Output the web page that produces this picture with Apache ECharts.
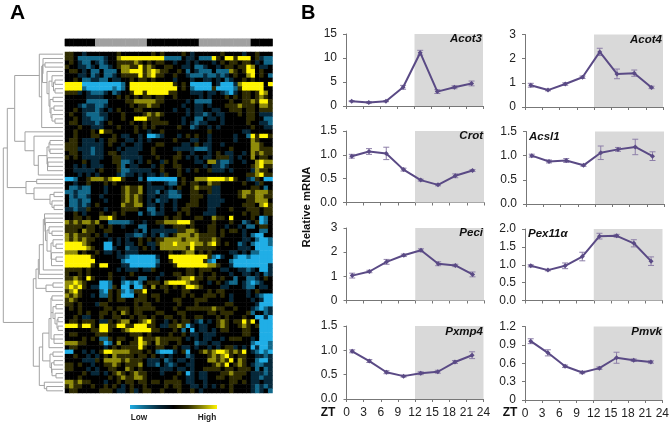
<!DOCTYPE html>
<html><head><meta charset="utf-8">
<style>html,body{margin:0;padding:0;background:#fff}#c{width:672px;height:426px}</style>
<script src="https://cdn.jsdelivr.net/npm/echarts@6/dist/echarts.min.js"></script>
</head><body><div id="c"></div>
<script>
// ---------- Panel A data ----------
const levelOf = {B:-3,b:-2,d:-1,'.':0,o:1,y:2,Y:3};
const heatRows = [
"oo..d... ....o... ....o.o. ...o.d.. ....o... .d..o...",
"oo.bbbbb bd..yYYY YYYYYYYb bbb.dd.b bbYo.YYo YYY.odbb",
".o.dbb.d bd..oooo yo.o.oo. .d..d.d. ..d.o.oo .oo.d.bb",
"o..ddbd. bbd.oyyo oYoyo..o o..dd.bb d..d.oo. ooYy.dd.",
".oo.d.bb .bbb.yyY YYoyYyoo ..o.b.db bb.bbbyo .oYY.o..",
"...dd.bd .bbd.ooo oYoyYoo. .o..dbbb dbbdbd.o ..yY.o.b",
"..o.bbdd bb.dd..o .oo.o... .d...d.. dd.d.bd. .o.o....",
"YYYYBBBB BBBBBb.Y YYYYYYYY Yo.o.BBB BB.dBBBd yYYYYY.Y",
"YYYYbBBB BBBbBb.Y YYYYYYYY YY.o.bBB BBoBBBBb oYYYYY..",
"oood.dbb bd.bd..o YYoYYYYY oo...ddd .dd.dbBd .oo.oYy.",
".....ddd d...o.o. o.oo.oo. .o.....d .d...o.o .oo.oyo.",
".....bbb bb....oo yyyyyoo. ....d.bb bb....o. .ooyoYYo",
"...dbddb bd.....o .ooyoo.. ...d..dd .d...ooo yooo.yyo",
"..o.dddb d.d.o... oo...... .d..d.dd ..dd..oo o.oo.ooo",
".o..dbbb dd...o.. ..oyoyo. ....d.dd bd.dd... o.oo.ddd",
"..o.ddbb bd...o.. YYYooo.. ...d..bb .dd.d... ..oo..bb",
".oo.dddb d.o....o ..o.oooo ...d.dbd d...d... ..o..ddb",
"...o..dd d...o... o.o.o... ..o..bd. .d.d.... ...o..dd",
"..o...o. Yoo..... o..d..o. ........ .o...... .dd.....",
"..o...oo ...o.dd. .d.BBbd. ..d.o.o. .d.....d ..bYoYYo",
".oo.ddd. d.oo..dd .d.d.... .o...dd. .d.....d ...yo...",
"ooo.dddd d.o..d.. dd...oo. ...dd.o. dd..d... ...yyo..",
"ooodddbd d...d.dd dd..o... .dddddbb bd....o. ...yyooo",
".oo.ddbd d.oo.ddd d...o... ..o..d.. .d.o.dd. .d.yoyoo",
"o.o.dddd d..ooddd dd...o.. .oo.d.d. dd.oood. d..y.oo.",
"....o.dd ...oobbd .d.o..do .o....dd .yydbbd. .d..yYyy",
"..d.d.dd d...ob.d d...d.o. .oo..... d.ddbd.. ...oyYoo",
"..ddddd. o...obbd dddd..o. ..o.d.o. .oddd.d. ...dyoo.",
"...d.d.d ....dbdd .d.dd.do ..o..... ........ ..ooyYoo",
"BBb..oyy yoyYYo.. .b.BBBBB BB.o..yy yYYYYyYo ..dbo.BB",
"..d..o.. .o.o.... ...d...d bb.o.oo. .yoo.... .o..do..",
".bbdbb.. .d...oyo oy.dddd. d.o..oyo oodd.... ...oo.b.",
"bbdbbb.. .d...oyo oy.ddb.d bbd..oo. .odd.... oyyoyyyo",
".bdbbd.. d....oyo yo.dd.dd bbb..ooo .ddd.... oyooyyoo",
".bbdbb.. .d...oyo yo.d.bdd .d...oo. .dddd... ..ooyyy.",
".bbdbd.o .....yoo yy.dd.d. .d..ooo. .ddd.... .ooo.yYo",
"ddbddo.. .d...ooo o..bb.d. .d.oo... .dd...o. ..ooo.oo",
"..o.d... o..o.o.. .b.dbdd. ..o.o... ddd..... .o.oo.oo",
"..oo.o.. yyYo.... .......o .oo...oo ..yoo.Y. ...o.Bb.",
"yoyoyyoy ..bbbbbd ..d..ooy yyYYYo.. ..o...o. .bd.oBb.",
"oooo.oo. o.o..d.. .bb...d. .ooo.o.. .oo..d.. d.bb.oo.",
"ooo.yoo. .oo..... d.b.dddd ddooyyo. .oo.o.oo .d...bb.",
"yoyooo.o .d....dd bbd.d.bd .oyyyoyo ooo.o... .d.bBB..",
"yoyoyoo. ..d.d.d. .o.o.ooy yyyoyyyo ooyo.... .dd.bBBb",
"YYYYyo.. .BB.d.dd .o.ddoyy yYyyyYyy oyYo.o.. bd.bBBBb",
"YYYYYyo. .BBd..bd d.o.d.yy yyyyoYoo ooo..... ddd.BBBB",
"yyy.o..o .dd.d.dd d....... o..oyy.o .o....dd .d.bbBBB",
"YYYYYYo. ....ddbB BBBBBd.. YYYYYYYY YobBd..b BBbBBBBB",
"YYYYYYY. .....bBB BBBBBb.. oYYYYYYY obB...bB BBBBBBBB",
"YYYYYYo. YY...ddB BBBBBd.. .oYYYYYY Yyyo..dB BBBBBBBd",
"oooo.o.. ....d.dd d.ddo... ....oo.o oo..dd.. ddbd.BBd",
"o..o.o.. ..o....o ......d. .oo.oo.o ..o...d. .dd.d.bd",
"ooyo.Yo. ..o..d.. .bb..d.. ..oyyYoo .oo.o..b ..bbd.o.",
"yyYyo... BBb..bBb Bb.ooo.y YYYYyoo. .d.o.dbb .dbBbd..",
"yYyYo.dd BBbo.BB. BBo.y.oo .o.oYYyo ....dd.. .dbb.dd.",
"oyYo.... bBo.obBb ooY....o ...oo... .o.oo... ..d.o...",
"yoyo..d. bbo.oBBB .oo.oo.. ...o.o.. ooo.o.d. ..d.dbBB",
"oyo..... ..o.oo.. ooo..o.. .oo...oo o.....d. ...d.dBB",
"oo.o...d oo...... o.oo.... ..o...o. .....oo. ....dBBB",
".o.o.... .oo.ooo. ooooo... .o..oooo ooyoo..o ...dbBbd",
"...o.o.. oo.o.yo. oo...oo. ..oo.... .oo.ooo. ..ob..bd",
"..o.dd.. o..oo..o .oo.o..o o..o..oo ...o.o.. .o..BBdB",
".oo.ooo. ddo.oyy. .oyYo..d .o.oo.db .d.oyo.o oYoY.BBB",
"YYYoYYo. YYooYYoo YYYoo.dd ooyoBd.d d..oyo.. oyo.oBBB",
"......oo YYo..oyY YYYYoo.. .o.b.B.d d.d.oo.. .oo..BBB",
".oo....o oo.....o oo.o.... o..o.dd. ddd..... .oo..BBB",
"....o.o. bbo.oo.. oYoooyoo ooo.d.d. dd..d.oo o..d.BBB",
"yyyoo... oBb.y..o oYyo.yoo ..o...bd d.dd.... ...bBBBb",
".oo..... .d.o.ooo oYo..oo. .o.dd.d. .d.d.ood .d.BdBBb",
"BB..d.d. oYYyyyyo oo.o.bBB Bd.oB..o yoyYYyoy oY.dbBbB",
"..o..d.d .o.yoooo .oo.o.d. d...bd.. .oyoyYo. oo..ddbd",
"....dddo .yyyyoyo oo.ddd.b d.dd.d.. .yyoyoY. yo..bBBd",
"oo.o..d. .ooyo.oo oy.ddb.d bd..dd.. ..oyoY.o yo.dbbdd",
"oo...d.d ..oo..yo .o....dd d.dd.d.. oooo.oo. ooo.b.bd",
"....o.dd .d.oyo.o yoo...d. ..o.Bd.d d...ooyo oo.dddbd",
"...o.... ..o.oyoo yyo..... .o..dd.d d..oo.oo o..ddbdd",
"yyoyoo.. .d..o.oo .oo.oo.o ooo.dd.. d.....oo .o.dd.dd",
"oyoo..o. .o.o.d.o ..o....o .oo..dd. d.d.o.o. ...dbdbd",
".oo..... ooo.dd.o d.oo..o. ..o..o.d ......o. ...dbd.b"
];
const phaseBlocks = [[0,7],[1,12],[0,12],[1,12],[0,5]]; // [dark/light, length in columns]

// Dendrogram: [branch position, ...children], 0 = a leaf, leaves in row order.
const treeA = [39.3,0,[41.7,[43,0,[42.5,[45,0,0],[47,0,[49,[52,0,[53.5,[55,0,0],[55,0,0]]],[50,[53,0,0],[51,[54,0,0],[52,0,[55,0,0]]]]]]]],0]];
const treeB = [25,0,[34,0,[38.3,[47,[49,[50,0,0],[50,0,0]],[47.5,0,[48,0,0],0]],0]]];
const treeC = [26,[36.7,0,0],[34,0,[50,[54,0,0],[52,0,[54,0,0]]]]];
const treeL1 = [36,[38.3,[39.3,[43.3,[44.5,0,[45,0,[45.5,0,[47,[49,0,[52,0,0]],[51,[53,0,[56,0,0]],[51.5,0,[56,0,0],0]]]]]],0],0],0],[46,[53,0,0],0]];
const treeP = [49,[51,[52,0,0],[53,[56,0,0],[55,0,[57,[58,0,0],[58,0,0]]]],[54,0,0,0]],0];
const treeQ = [50,[53,0,0],[51.5,[54,0,0],[52,0,[56,0,0]]]];
const treeL2 = [39.3,[42.7,treeP,treeQ],[44.3,0,[46.7,0,0]]];
const tree = [3.3,[7.3,[14.7,treeA,treeB],treeC],[33.3,treeL1,treeL2]];

// ---------- Panel B data ----------
const zt = [1,4,7,10,13,16,19,22];
const ztTicks = ['0','3','6','9','12','15','18','21','24'];
const acot3 = [1.0,0.75,1.0,3.9,11.1,3.0,3.9,4.7];
const acot3Err = [0.1,0.15,0.1,0.4,0.5,0.4,0.3,0.5];
const acot3Ticks = ['0','5','10','15'];
const acot4 = [0.9,0.7,0.95,1.23,2.28,1.37,1.40,0.81];
const acot4Err = [0.08,0.03,0.05,0.05,0.15,0.2,0.13,0.05];
const acot4Ticks = ['0','1','2','3'];
const crot = [0.97,1.07,1.03,0.69,0.47,0.37,0.56,0.67];
const crotErr = [0.04,0.06,0.13,0.03,0.02,0.02,0.04,0.02];
const crotTicks = ['0.0','0.5','1.0','1.5'];
const acsl1 = [1.0,0.88,0.90,0.80,1.06,1.13,1.18,0.99];
const acsl1Err = [0.03,0.03,0.04,0.02,0.14,0.04,0.16,0.09];
const acsl1Ticks = ['0.0','0.5','1.0','1.5'];
const peci = [1.03,1.2,1.6,1.87,2.08,1.52,1.45,1.08];
const peciErr = [0.1,0.05,0.1,0.05,0.06,0.08,0.05,0.1];
const peciTicks = ['0','1','2','3'];
const pex11a = [0.97,0.85,0.97,1.23,1.8,1.81,1.6,1.1];
const pex11aErr = [0.03,0.02,0.08,0.12,0.08,0.04,0.1,0.12];
const pex11aTicks = ['0.0','0.5','1.0','1.5','2.0'];
const pxmp4 = [0.98,0.78,0.55,0.47,0.53,0.56,0.76,0.90];
const pxmp4Err = [0.03,0.03,0.03,0.02,0.03,0.03,0.03,0.07];
const pxmp4Ticks = ['0.0','0.5','1.0','1.5'];
const pmvk = [0.96,0.77,0.55,0.45,0.52,0.69,0.65,0.62];
const pmvkErr = [0.04,0.05,0.02,0.02,0.02,0.09,0.02,0.02];
const pmvkTicks = ['0','0.3','0.6','0.9','1.2'];

// ---------- layout ----------
const FONT = '"Liberation Sans",Arial,sans-serif';
const panels = [
 {n:'Acot3', v:acot3, e:acot3Err, t:acot3Ticks, max:15, step:5,  l:346, r:483, top:34,  bot:106, lx:482, ly:39, a:'right'},
 {n:'Crot',  v:crot,  e:crotErr,  t:crotTicks,  max:1.5,step:.5, l:346, r:484, top:131, bot:202.5, lx:483, ly:136, a:'right'},
 {n:'Peci',  v:peci,  e:peciErr,  t:peciTicks,  max:3,  step:1,  l:346.5,r:484, top:228, bot:300.5, lx:483, ly:233, a:'right'},
 {n:'Pxmp4', v:pxmp4, e:pxmp4Err, t:pxmp4Ticks, max:1.5,step:.5, l:346.5,r:483.5, top:326, bot:399, lx:483, ly:332, a:'right', xl:true},
 {n:'Acot4', v:acot4, e:acot4Err, t:acot4Ticks, max:3,  step:1,  l:525, r:663, top:34.5,bot:107, lx:662, ly:40, a:'right'},
 {n:'Acsl1', v:acsl1, e:acsl1Err, t:acsl1Ticks, max:1.5,step:.5, l:526, r:664, top:131.5,bot:204, lx:529, ly:137, a:'left'},
 {n:'Pex11α',v:pex11a,e:pex11aErr,t:pex11aTicks,max:2,  step:.5, l:525, r:662.5, top:229, bot:300.5, lx:528, ly:234, a:'left'},
 {n:'Pmvk',  v:pmvk,  e:pmvkErr,  t:pmvkTicks,  max:1.2,step:.3, l:525, r:663, top:326.5,bot:400, lx:662, ly:332, a:'right', xl:true}
];

const heatData = [];
heatRows.forEach((row,r)=>{
  row.replace(/ /g,'').split('').forEach((ch,c)=>heatData.push([c,r,levelOf[ch]]));
});
const nRows = heatRows.length, nCols = 48;
const phaseData = [];
phaseBlocks.forEach(b=>{for(let i=0;i<b[1];i++)phaseData.push([phaseData.length,0,b[0]]);});

// flatten tree to segments
const segs=[]; let leaf=0;
function walk(n){
  if(n===0){return {x:63,y:(leaf++)+0.5};}
  const kids=n.slice(1).map(walk);
  const x=n[0], ys=kids.map(k=>k.y);
  const y=(ys[0]+ys[ys.length-1])/2;
  segs.push([x,ys[0],x,ys[ys.length-1]]);
  kids.forEach(k=>segs.push([x,k.y,k.x,k.y]));
  return {x,y};
}
walk(tree);

const grids=[
 {left:65,top:52,width:207.5,height:341},
 {left:65,top:39,width:207.5,height:7,show:true,borderColor:'#aaa',borderWidth:1},
 {left:0,top:52,width:63,height:341}
];
const xAxes=[
 {gridIndex:0,type:'category',data:Array.from({length:nCols},(_, i)=>i),show:false},
 {gridIndex:1,type:'category',data:Array.from({length:nCols},(_, i)=>i),show:false},
 {gridIndex:2,type:'value',min:0,max:63,show:false}
];
const yAxes=[
 {gridIndex:0,type:'category',inverse:true,data:Array.from({length:nRows},(_, i)=>i),show:false},
 {gridIndex:1,type:'category',data:[0],show:false},
 {gridIndex:2,type:'value',min:0,max:nRows,inverse:true,show:false}
];
const series=[
 {type:'heatmap',xAxisIndex:0,yAxisIndex:0,data:heatData,progressive:0,silent:true,emphasis:{disabled:true},itemStyle:{borderWidth:0}},
 {type:'heatmap',xAxisIndex:1,yAxisIndex:1,data:phaseData,progressive:0,silent:true,emphasis:{disabled:true}},
 {type:'custom',xAxisIndex:2,yAxisIndex:2,data:segs,silent:true,clip:false,
  encode:{x:[0,2],y:[1,3]},
  renderItem:(p,api)=>{
    const a=api.coord([api.value(0),api.value(1)]),b=api.coord([api.value(2),api.value(3)]);
    return {type:'line',shape:{x1:a[0],y1:a[1],x2:b[0],y2:b[1]},style:{stroke:'#a3a3a3',lineWidth:1,fill:null}};
  }}
];
const texts=[];
function txt(t,x,y,opt){texts.push({type:'text',x,y,z:100,silent:true,style:Object.assign({text:t,fontFamily:FONT,fontSize:12,fill:'#222',verticalAlign:'middle'},opt)});}

panels.forEach((p,i)=>{
  const g=3+i;
  grids.push({left:p.l,top:p.top,width:p.r-p.l,height:p.bot-p.top});
  xAxes.push({gridIndex:g,type:'value',min:0,max:24,interval:3,
    axisLine:{show:true,onZero:false,lineStyle:{color:'#777',width:1}},
    axisTick:{show:true,length:3,lineStyle:{color:'#777'}},
    splitLine:{show:false},
    axisLabel:{show:!!p.xl,margin:8,fontSize:12,color:'#222',fontFamily:FONT,showMinLabel:true,showMaxLabel:true,
      formatter:v=>ztTicks[Math.round(v/3)]}});
  yAxes.push({gridIndex:g,type:'value',min:0,max:p.max,interval:p.step,
    axisLine:{show:true,onZero:false,lineStyle:{color:'#777',width:1}},
    axisTick:{show:true,length:3,lineStyle:{color:'#777'}},
    splitLine:{show:false},
    axisLabel:{show:true,margin:9,fontSize:12,color:'#222',fontFamily:FONT,showMinLabel:true,showMaxLabel:true,
      formatter:v=>p.t[Math.round(v/p.step)]}});
  const pts=zt.map((x,k)=>[x,p.v[k]]);
  series.push({type:'line',xAxisIndex:g,yAxisIndex:g,data:pts,z:3,silent:true,animation:false,
    lineStyle:{color:'#5a4a85',width:2},itemStyle:{color:'#5a4a85'},symbol:'diamond',symbolSize:5,
    markArea:{silent:true,z:1,itemStyle:{color:'#d9d9d9'},label:{show:false},data:[[{xAxis:12},{xAxis:24}]]}});
  series.push({type:'custom',xAxisIndex:g,yAxisIndex:g,z:2,silent:true,clip:false,
    data:zt.map((x,k)=>[x,p.v[k]-p.e[k],p.v[k]+p.e[k]]),
    encode:{x:0,y:[1,2]},
    renderItem:(params,api)=>{
      const lo=api.coord([api.value(0),api.value(1)]),hi=api.coord([api.value(0),api.value(2)]),w=3;
      const st={stroke:'#8d7fa8',lineWidth:1,fill:null};
      return {type:'group',children:[
        {type:'line',shape:{x1:lo[0],y1:lo[1],x2:hi[0],y2:hi[1]},style:st},
        {type:'line',shape:{x1:lo[0]-w,y1:lo[1],x2:lo[0]+w,y2:lo[1]},style:st},
        {type:'line',shape:{x1:hi[0]-w,y1:hi[1],x2:hi[0]+w,y2:hi[1]},style:st}]};
    }});
  txt(p.n,p.lx,p.ly,{fontWeight:'bold',fontStyle:'italic',fontSize:11.5,fill:'#111',align:p.a});
});

txt('A',10,13,{fontWeight:'bold',fontSize:21,fill:'#000',align:'left'});
txt('B',301,13,{fontWeight:'bold',fontSize:20,fill:'#000',align:'left'});
txt('ZT',328,413,{fontWeight:'bold',fontSize:12,fill:'#111',align:'center'});
txt('ZT',510,413,{fontWeight:'bold',fontSize:12,fill:'#111',align:'center'});
txt('Low',139,418,{fontWeight:'bold',fontSize:8.3,fill:'#222',align:'center'});
txt('High',207,418,{fontWeight:'bold',fontSize:8.3,fill:'#222',align:'center'});
texts.push({type:'text',x:307,y:207,z:100,rotation:Math.PI/2,silent:true,
  style:{text:'Relative mRNA',fontFamily:FONT,fontWeight:'bold',fontSize:11.3,fill:'#111',align:'center',verticalAlign:'middle'}});
const ramp=['#20aee6','#11688a','#06283a','#000000','#2f2c02','#8f8b0a','#fff400'];
texts.push({type:'rect',shape:{x:130,y:405,width:87,height:4},z:100,silent:true,
  style:{fill:new echarts.graphic.LinearGradient(0,0,1,0,ramp.map((c,i)=>({offset:i/6,color:c})))}});

const chart=echarts.init(document.getElementById('c'),null,{renderer:'canvas'});
chart.setOption({
  animation:false,backgroundColor:'#fff',
  grid:grids,xAxis:xAxes,yAxis:yAxes,series,
  visualMap:[
    {show:false,type:'continuous',seriesIndex:0,min:-3,max:3,inRange:{color:ramp}},
    {show:false,type:'piecewise',seriesIndex:1,pieces:[{value:0,color:'#000'},{value:1,color:'#a0a0a0'}]}
  ],
  graphic:texts
});
</script></body></html>
